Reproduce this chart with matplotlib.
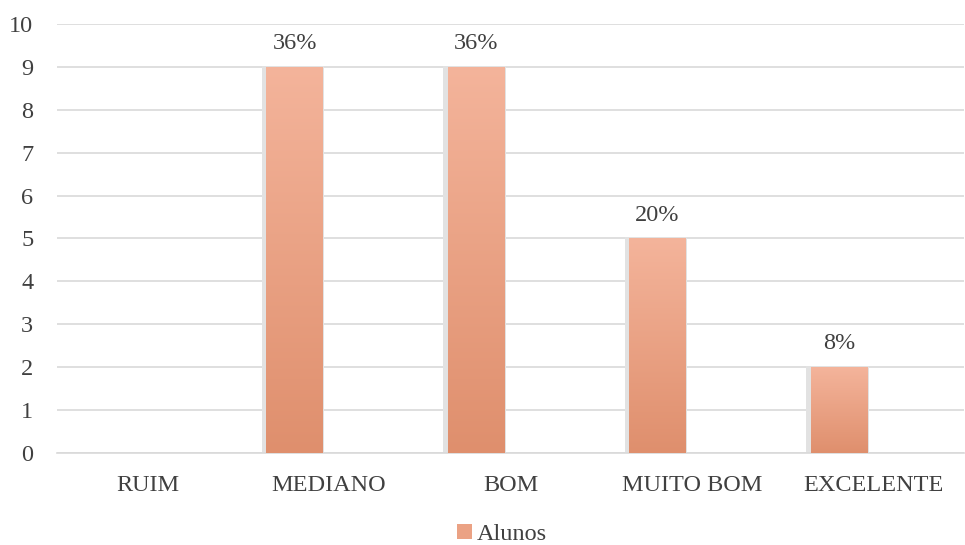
import numpy as np
import matplotlib.pyplot as plt
from matplotlib.colors import LinearSegmentedColormap
from matplotlib.patches import Patch

plt.rcParams['font.family'] = ['Liberation Serif', 'DejaVu Serif']

categorias = ['RUIM', 'MEDIANO', 'BOM', 'MUITO BOM', 'EXCELENTE']
alunos = [0, 9, 9, 5, 2]
rotulos = ['', '36%', '36%', '20%', '8%']

fig = plt.figure(figsize=(9.65, 5.45), dpi=100)
ax = fig.add_axes([0.059, 0.169, 0.94, 0.787])

x = np.arange(len(categorias))
w = 0.31
desloc = -0.19  # barras deslocadas para a esquerda do rótulo
xb = x + desloc
cmap = LinearSegmentedColormap.from_list('grad', ['#df8f6d', '#f4b49b'])

# sombra leve (só onde há barra)
alt = np.array(alunos, dtype=float)
mask = alt > 0
ax.bar(xb[mask] - 0.008, alt[mask] + 0.03, width=w + 0.035, color='#e2e2e2', zorder=2)
bars = ax.bar(xb, alunos, width=w, color='#ea9f80', zorder=3)

grad = np.linspace(0, 1, 256).reshape(-1, 1)
for b, v in zip(bars, alunos):
    if v == 0:
        continue
    x0 = b.get_x()
    im = ax.imshow(grad, extent=[x0, x0 + w, 0, v], origin='lower', cmap=cmap,
                   aspect='auto', zorder=4)
    im.set_clip_path(b)

for xi, v, r in zip(xb, alunos, rotulos):
    if r:
        ax.text(xi, v + 0.3, r, ha='center', va='bottom', fontsize=17.5, color='#404040')

ax.set_xlim(-0.5, len(categorias) - 0.5)
ax.set_ylim(0, 10)
ax.set_yticks(range(0, 11))
ax.set_xticks(x)
ax.set_xticklabels(categorias)
ax.tick_params(axis='both', length=0, labelsize=17.5, colors='#404040')
ax.tick_params(axis='x', pad=16)
ax.tick_params(axis='y', pad=17)
ax.yaxis.grid(True, color='#d9d9d9', linewidth=1.2, zorder=0)
ax.set_axisbelow(True)
for s in ['top', 'right', 'left']:
    ax.spines[s].set_visible(False)
ax.spines['bottom'].set_color('#d9d9d9')
ax.spines['bottom'].set_linewidth(1.2)

handle = Patch(facecolor='#eba284', edgecolor='none')
fig.legend([handle], ['Alunos'], loc='lower center', bbox_to_anchor=(0.52, -0.04),
           frameon=False, fontsize=17.5, handlelength=0.6, handleheight=0.6,
           handletextpad=0.2, labelcolor='#404040')

fig.savefig('out.png', dpi=100)
